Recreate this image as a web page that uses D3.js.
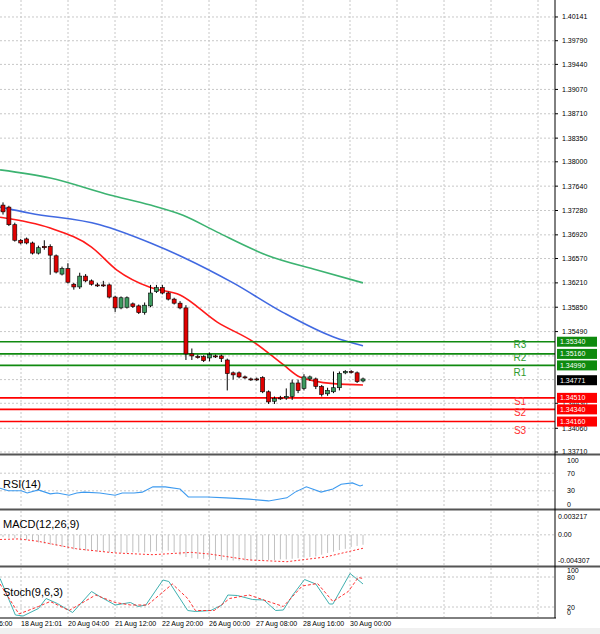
<!DOCTYPE html>
<html><head><meta charset="utf-8">
<script src="https://cdn.jsdelivr.net/npm/d3@7"></script>
<style>body{margin:0;background:#fff}text{font-family:"Liberation Sans",Arial,sans-serif}</style>
</head><body><svg></svg>
<script>
// candles: [open, high, low, close]
const candles = [
  [1.3736,1.3740,1.3722,1.3726],[1.3733,1.3735,1.3705,1.3707],[1.3707,1.3710,1.3682,1.3684],
  [1.3684,1.3686,1.3678,1.3680],[1.3686,1.3688,1.3678,1.3680],[1.3680,1.3682,1.3663,1.3665],
  [1.3665,1.3676,1.3663,1.3673],[1.3675,1.3684,1.3670,1.3673],[1.3675,1.3678,1.3633,1.3662],
  [1.3661,1.3663,1.3635,1.3637],[1.3634,1.3645,1.3632,1.3642],[1.3642,1.3650,1.3620,1.3622],
  [1.3619,1.3621,1.3611,1.3615],[1.3615,1.3636,1.3612,1.3631],[1.3631,1.3634,1.3622,1.3624],
  [1.3624,1.3626,1.3617,1.3619],[1.3618,1.3621,1.3615,1.3617],[1.3618,1.3624,1.3615,1.3617],
  [1.3618,1.3620,1.3598,1.3600],[1.3600,1.3602,1.3578,1.3584],[1.3584,1.3601,1.3582,1.3599],
  [1.3585,1.3601,1.3583,1.3599],[1.3590,1.3592,1.3584,1.3586],[1.3587,1.3589,1.3575,1.3577],
  [1.3577,1.3592,1.3574,1.3588],[1.3587,1.3618,1.3585,1.3606],[1.3608,1.3618,1.3606,1.3614],
  [1.3614,1.3618,1.3604,1.3606],[1.3606,1.3608,1.3595,1.3597],[1.3597,1.3599,1.3589,1.3591],
  [1.3591,1.3594,1.3582,1.3584],[1.3584,1.3588,1.3507,1.3516],[1.3516,1.3524,1.3507,1.3513],
  [1.3512,1.3515,1.3509,1.3511],[1.3512,1.3514,1.3504,1.3506],[1.3510,1.3518,1.3505,1.3515],
  [1.3513,1.3515,1.3510,1.3512],[1.3513,1.3515,1.3504,1.3509],[1.3507,1.3509,1.3462,1.3487],
  [1.3488,1.3490,1.3478,1.3485],[1.3488,1.3490,1.3480,1.3482],[1.3482,1.3484,1.3479,1.3481],
  [1.3479,1.3481,1.3476,1.3478],[1.3479,1.3481,1.3476,1.3478],[1.3481,1.3483,1.3458,1.3460],
  [1.3460,1.3462,1.3442,1.3445],[1.3446,1.3453,1.3442,1.3450],[1.3451,1.3454,1.3448,1.3450],
  [1.3451,1.3465,1.3448,1.3453],[1.3453,1.3478,1.3448,1.3473],[1.3473,1.3478,1.3458,1.3462],
  [1.3465,1.3486,1.3462,1.3482],[1.3479,1.3484,1.3476,1.3482],[1.3479,1.3481,1.3464,1.3468],
  [1.3468,1.3470,1.3453,1.3456],[1.3457,1.3466,1.3454,1.3462],[1.3460,1.3490,1.3458,1.3466],
  [1.3466,1.3490,1.3462,1.3487],[1.3488,1.3492,1.3486,1.3490],[1.3490,1.3492,1.3487,1.3489],
  [1.3488,1.3490,1.3473,1.3475],[1.3476,1.3481,1.3474,1.3479]
]
// moving averages: [candle index, price]
const maRed = [[-0.5,1.3718],[8,1.3702],[15,1.3674],[19.3,1.3640],[25,1.3614],[30,1.3603],[36.3,1.3563],[42.4,1.3534],[47.5,1.3500],[50.3,1.3482],[56,1.3472],[61,1.3470]]
const maBlue = [[-0.5,1.3733],[4.6,1.3724],[16.4,1.3707],[25,1.3680],[30.5,1.3659],[39,1.3621],[47.5,1.3577],[56,1.3541],[61,1.3528]]
const maGreen = [[-0.5,1.3788],[8,1.3776],[18.1,1.3751],[25,1.3736],[30.5,1.3721],[36.3,1.3696],[44.7,1.3662],[53.2,1.3640],[61,1.3621]]

const priceTicks = [1.40141,1.39790,1.39440,1.39070,1.38710,1.38350,1.38000,1.37640,1.37280,1.36920,1.36570,1.36210,1.35850,1.35490,1.34430,1.34060,1.33710]
const gridTicks = [1.35130,1.34780]
const pivotNames = ["R3","R2","R1","S1","S2","S3"]
const pivotValues = [1.35340,1.35160,1.34990,1.34510,1.34340,1.34160]
const lastPrice = 1.34771

// lower panels: [candle index, value]
const rsi = [[-0.5,36],[0.9,30],[3.1,30],[4.1,25],[6,32],[8,23],[9.2,25],[11.2,20],[12.5,25],[13.7,27],[16.4,25],[19,20],[20.2,25],[22.2,25],[23.6,27],[25.4,39],[27.5,39],[30,34],[31.4,16],[34.6,16],[37.8,14],[41.7,11],[45,7],[48.1,14],[49.5,27],[51.4,39],[53.9,27],[55.9,34],[57.3,45],[59.2,48],[60.5,41],[61,43]]
const macdHist = [-0.0004,-0.0005,-0.0006,-0.0008,-0.0009,-0.0011,-0.0013,-0.0015,-0.0017,-0.0019,-0.0021,-0.0023,-0.0025,-0.0026,-0.0027,-0.0028,-0.0029,-0.0029,-0.0030,-0.0030,-0.0031,-0.0031,-0.0030,-0.0030,-0.0030,-0.0029,-0.0028,-0.0027,-0.0027,-0.0030,-0.0035,-0.0038,-0.0040,-0.0041,-0.0041,-0.0042,-0.0043,-0.0043,-0.0044,-0.0044,-0.0044,-0.0044,-0.0044,-0.0044,-0.0044,-0.0043,-0.0043,-0.0042,-0.0042,-0.0041,-0.0040,-0.0039,-0.0038,-0.0037,-0.0034,-0.0031,-0.0029,-0.0026,-0.0024,-0.0021,-0.0019,-0.0017]
const macdSignal = [[-0.5,-0.0008],[2.7,-0.0007],[5.9,-0.0011],[12.5,-0.0024],[19,-0.0031],[25.4,-0.0034],[31.9,-0.0030],[35.1,-0.0033],[41.7,-0.0043],[48.1,-0.0046],[54.6,-0.0038],[61,-0.0023]]
const stochMain = [[-0.5,77],[2.1,4],[3.4,2],[6,17],[7.3,37],[9.2,27],[11.8,9],[15,51],[16.4,41],[19,24],[21.6,29],[22.9,21],[24.2,24],[27.1,74],[28.1,71],[31.3,13],[32.6,11],[35.2,13],[37.1,24],[38.1,44],[39.7,43],[42.3,35],[44.2,34],[46.2,13],[47.5,14],[49.1,44],[51.1,75],[53,66],[55.3,26],[55.9,26],[58.8,87],[60.5,71],[61,66]]
const stochSignal = [[-0.5,66],[2.7,6],[6,21],[8,31],[11.2,13],[15.7,44],[19,29],[21.6,24],[24.5,24],[28.7,66],[31.3,37],[32.6,13],[35.8,13],[38.4,37],[41.7,44],[44.2,34],[47.5,21],[50.7,62],[53.3,67],[55.9,31],[58.5,51],[60.2,79],[61,77]]
const rsiTicks = [100,70,30,0]
const stochTicks = [100,80,20,0]
const timeLabels = ["16:00","18 Aug 21:01","20 Aug 04:00","21 Aug 12:00","22 Aug 20:00","26 Aug 00:00","27 Aug 08:00","28 Aug 16:00","30 Aug 00:00"]

const W = 600, H = 634, axisX = 555
const svg = d3.select("svg").attr("width", W).attr("height", H)

const x = d3.scaleLinear().domain([0, 61]).range([3, 363])
const y = d3.scaleLinear().domain([1.33695, 1.40392]).range([453, 0])
const yRsi = d3.scaleLinear().domain([0, 100]).range([504, 460])
const yMacd = d3.scaleLinear().domain([-0.004307, 0.003217]).range([560, 516])
const yStoch = d3.scaleLinear().domain([0, 100]).range([617, 567])

// vertical grid
const gridX = d3.range(0, 12).map(k => 21 + 47 * k)
const panels = [[0, 453], [456, 508], [511, 565], [568, 617]]
panels.forEach(([t, b]) => {
  svg.selectAll(null).data(gridX).enter().append("line")
    .attr("x1", d => d).attr("x2", d => d).attr("y1", t).attr("y2", b)
    .attr("stroke", "#c8c8c8").attr("stroke-dasharray", "2,2")
})
const hGrid = (vals, sc) => svg.selectAll(null).data(vals).enter().append("line")
  .attr("x1", 0).attr("x2", axisX).attr("y1", d => sc(d)).attr("y2", d => sc(d))
  .attr("stroke", "#c8c8c8").attr("stroke-dasharray", "2,2")
hGrid(priceTicks.concat(gridTicks), y)
hGrid([70, 30], yRsi)
hGrid([0], yMacd)
hGrid([80, 20], yStoch)

// right axis labels
svg.selectAll(null).data(priceTicks).enter().append("line")
  .attr("x1", axisX).attr("x2", axisX + 3).attr("y1", d => y(d)).attr("y2", d => y(d)).attr("stroke", "#000")
svg.selectAll(null).data(priceTicks).enter().append("text")
  .attr("x", axisX + 7).attr("y", d => y(d) + 2.5).attr("font-size", 7).text(d => d.toFixed(5))
svg.selectAll(null).data(rsiTicks).enter().append("text")
  .attr("x", axisX + 12).attr("y", d => yRsi(d) + 2.5).attr("font-size", 7).text(d => d)
svg.selectAll(null).data([0.003217, 0, -0.004307]).enter().append("text")
  .attr("x", axisX + 3).attr("y", d => yMacd(d) + 2.5).attr("font-size", 7)
  .text(d => d === 0 ? "0.00" : d.toFixed(6))
svg.selectAll(null).data(stochTicks).enter().append("text")
  .attr("x", axisX + 12).attr("y", d => d === 100 ? 573 : d === 0 ? 615 : yStoch(d) + 2.5)
  .attr("font-size", 7).text(d => d)

// moving averages
const maLine = d3.line().x(d => x(d[0])).y(d => y(d[1])).curve(d3.curveMonotoneX)
;[[maGreen, "#3cb371"], [maBlue, "#4169e1"], [maRed, "#ff1a1a"]].forEach(([data, c]) => {
  svg.append("path").attr("d", maLine(data)).attr("fill", "none").attr("stroke", c).attr("stroke-width", 1.6)
})

// pivot lines
const labelOffset = [6, 7, 11, 7, 7, 12]
pivotValues.forEach((v, i) => {
  const isR = pivotNames[i][0] === "R"
  const c = isR ? "#108a10" : "#ff0000"
  svg.append("line").attr("x1", 0).attr("x2", axisX).attr("y1", y(v)).attr("y2", y(v))
    .attr("stroke", c).attr("stroke-width", 1.6)
  svg.append("text").attr("x", 520).attr("y", y(v) + labelOffset[i])
    .attr("text-anchor", "middle").attr("font-size", 10).attr("fill", isR ? "#2e9a2e" : "#ff3030").text(pivotNames[i])
  svg.append("rect").attr("x", axisX + 2).attr("y", y(v) - 5).attr("width", 40).attr("height", 10).attr("fill", isR ? "#0e8a0e" : "#ff0000")
  svg.append("text").attr("x", axisX + 5).attr("y", y(v) + 2.5).attr("font-size", 7).attr("fill", "#fff").text(v.toFixed(5))
})

// candles
const cw = 4
const g = svg.selectAll("g.candle").data(candles).enter().append("g").attr("class", "candle")
  .attr("transform", (d, i) => `translate(${x(i)},0)`)
g.append("line").attr("y1", d => y(d[1])).attr("y2", d => y(d[2])).attr("stroke", "#000")
g.append("rect").attr("x", -cw / 2)
  .attr("y", d => y(Math.max(d[0], d[3])))
  .attr("height", d => Math.max(1, Math.abs(y(d[0]) - y(d[3]))))
  .attr("width", cw)
  .attr("fill", d => d[3] >= d[0] ? "#3c9a5f" : "#e00000").attr("stroke", "#000").attr("stroke-width", 0.6)

// last price
svg.append("rect").attr("x", axisX + 2).attr("y", y(lastPrice) - 5).attr("width", 40).attr("height", 10).attr("fill", "#000")
svg.append("text").attr("x", axisX + 5).attr("y", y(lastPrice) + 2.5).attr("font-size", 7).attr("fill", "#fff").text(lastPrice.toFixed(5))

// RSI
const ln = sc => d3.line().x(d => x(d[0])).y(d => sc(d[1]))
svg.append("path").attr("d", ln(yRsi)(rsi)).attr("fill", "none").attr("stroke", "#3d9aef").attr("stroke-width", 1.1)
svg.append("text").attr("x", 3).attr("y", 488).attr("font-size", 11).text("RSI(14)")

// MACD
svg.selectAll(null).data(macdHist).enter().append("line")
  .attr("x1", (d, i) => x(i)).attr("x2", (d, i) => x(i)).attr("y1", yMacd(0)).attr("y2", d => yMacd(d))
  .attr("stroke", "#c0c0c0").attr("stroke-width", 1)
svg.append("path").attr("d", ln(yMacd)(macdSignal)).attr("fill", "none").attr("stroke", "#ff3030").attr("stroke-width", 1).attr("stroke-dasharray", "2,2")
svg.append("text").attr("x", 3).attr("y", 528).attr("font-size", 11).text("MACD(12,26,9)")

// Stochastic
svg.append("path").attr("d", ln(yStoch)(stochMain)).attr("fill", "none").attr("stroke", "#40b0b0").attr("stroke-width", 1)
svg.append("path").attr("d", ln(yStoch)(stochSignal)).attr("fill", "none").attr("stroke", "#ff3030").attr("stroke-width", 1).attr("stroke-dasharray", "3,2")
svg.append("text").attr("x", 3).attr("y", 596).attr("font-size", 11).text("Stoch(9,6,3)")

// separators and axes
;[454.5, 509.5, 566.5].forEach(v => svg.append("line").attr("x1", 0).attr("x2", W).attr("y1", v).attr("y2", v).attr("stroke", "#555").attr("stroke-width", 2))
svg.append("line").attr("x1", 0).attr("x2", axisX + 1).attr("y1", 618).attr("y2", 618).attr("stroke", "#000")
svg.append("line").attr("x1", axisX).attr("x2", axisX).attr("y1", 0).attr("y2", 618).attr("stroke", "#000")
svg.append("rect").attr("x", 0).attr("y", 628).attr("width", W).attr("height", 6).attr("fill", "#f0f0f0")

// time labels
svg.selectAll(null).data(timeLabels).enter().append("text")
  .attr("x", (d, i) => i === 0 ? -5 : gridX[i - 1]).attr("y", 626).attr("font-size", 7).text(d => d)
</script></body></html>
